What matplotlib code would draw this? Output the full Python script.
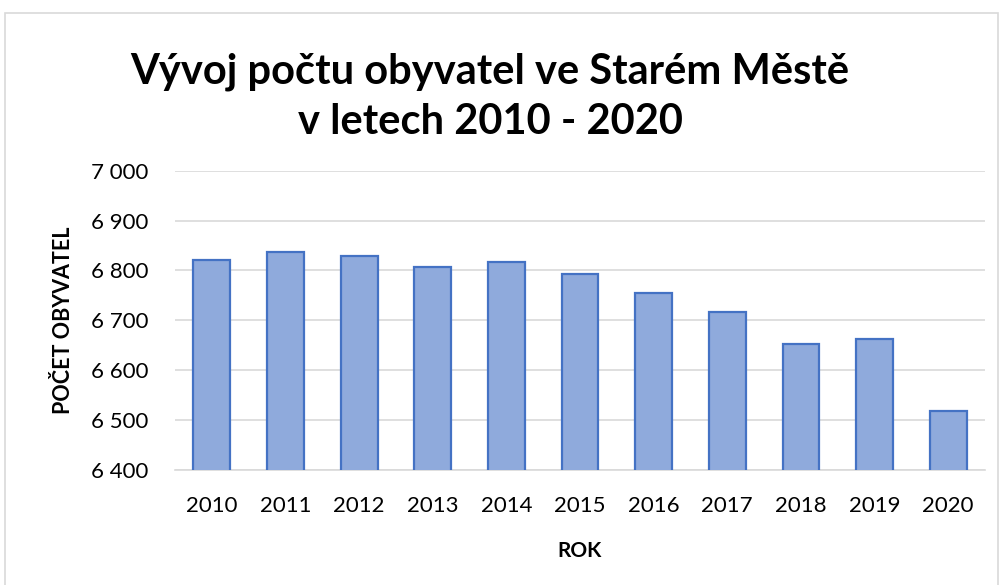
import matplotlib
matplotlib.use("Agg")
from matplotlib import pyplot as plt
from matplotlib.patches import Rectangle

# data
roky = ['2010', '2011', '2012', '2013', '2014', '2015',
        '2016', '2017', '2018', '2019', '2020']
obyvatel = [6821, 6838, 6828, 6807, 6816, 6792,
            6755, 6717, 6652, 6662, 6519]
y_ticks = [6400, 6500, 6600, 6700, 6800, 6900, 7000]

plt.rcParams['font.family'] = ['Lato', 'DejaVu Sans']

fig = plt.figure(figsize=(10, 5.85), dpi=100)
ax = fig.add_axes([0.175, 0.1966, 0.81, 0.5116])

# chart area frame like in Excel
fig.patches.append(Rectangle((0.005, -0.05), 0.993, 1.028, transform=fig.transFigure,
                             fill=False, edgecolor='#D9D9D9', linewidth=1.2))

x = range(len(roky))
ax.bar(x, obyvatel, width=0.5, color='#8FAADC', edgecolor='#4472C4',
       linewidth=1.6, zorder=3)

ax.set_ylim(6400, 7000)
ax.set_xlim(-0.5, len(roky) - 0.5)
ax.set_yticks(y_ticks)
ax.set_yticklabels([f"{v:,}".replace(",", " ") for v in y_ticks])
ax.set_xticks(list(x))
ax.set_xticklabels(roky)
ax.tick_params(axis='both', length=0, labelsize=16, colors='black')
ax.tick_params(axis='x', pad=19)
ax.tick_params(axis='y', pad=19)

ax.grid(axis='y', color='#D9D9D9', linewidth=1.2, zorder=0)
for s in ['top', 'right', 'left']:
    ax.spines[s].set_visible(False)
ax.spines['bottom'].set_color('#D9D9D9')
ax.spines['bottom'].set_linewidth(1.2)

ax.set_xlabel("ROK", fontsize=15, fontweight='bold', labelpad=18)
ax.set_ylabel("POČET OBYVATEL", fontsize=15.5, fontweight='bold', labelpad=12)

fig.text(0.49, 0.835, "Vývoj počtu obyvatel ve Starém Městě\nv letech 2010 - 2020",
         ha='center', va='center', fontsize=30, fontweight='bold',
         linespacing=1.4)

fig.savefig("out.png", dpi=100)
